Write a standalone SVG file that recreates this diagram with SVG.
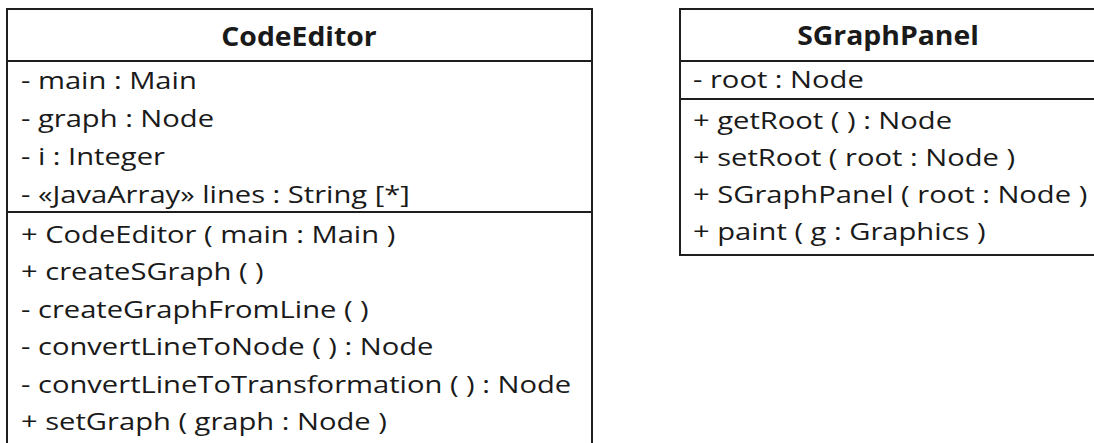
<svg xmlns="http://www.w3.org/2000/svg" width="1094" height="443" viewBox="0 0 1094 443">
<style>
.box{fill:#ffffff;stroke:#1e1e1e;stroke-width:2}
.div{stroke:#1e1e1e;stroke-width:2}
.t{font-family:"Open Sans","Noto Sans",sans-serif;font-size:24px;fill:#1a1a1a}
.h{font-family:"Open Sans","Noto Sans",sans-serif;font-size:27px;font-weight:bold;fill:#1a1a1a;text-anchor:middle}
</style>
<rect width="1094" height="443" fill="#ffffff"/>
<g id="CodeEditor">
<rect class="box" x="7" y="9" width="585" height="440"/>
<line class="div" x1="7" y1="61" x2="592" y2="61"/>
<line class="div" x1="7" y1="212" x2="592" y2="212"/>
<g transform="translate(299 0) scale(1.05 1)">
<text class="h" x="0" y="46">CodeEditor</text>
</g>
<g transform="translate(21 0) scale(1.215 1)">
<text class="t" x="0" y="89">- main : Main</text>
<text class="t" x="0" y="127">- graph : Node</text>
<text class="t" x="0" y="165">- i : Integer</text>
<text class="t" x="0" y="203">- «JavaArray» lines : String [*]</text>
<text class="t" x="0" y="243">+ CodeEditor ( main : Main )</text>
<text class="t" x="0" y="280">+ createSGraph ( )</text>
<text class="t" x="0" y="318">- createGraphFromLine ( )</text>
<text class="t" x="0" y="355">- convertLineToNode ( ) : Node</text>
<text class="t" x="0" y="393">- convertLineToTransformation ( ) : Node</text>
<text class="t" x="0" y="430">+ setGraph ( graph : Node )</text>
</g>
</g>
<g id="SGraphPanel">
<rect class="box" x="680" y="9" width="416" height="246"/>
<line class="div" x1="680" y1="61" x2="1096" y2="61"/>
<line class="div" x1="680" y1="99" x2="1096" y2="99"/>
<g transform="translate(888 0) scale(1.05 1)">
<text class="h" x="0" y="45">SGraphPanel</text>
</g>
<g transform="translate(693 0) scale(1.215 1)">
<text class="t" x="0" y="88">- root : Node</text>
<text class="t" x="0" y="129">+ getRoot ( ) : Node</text>
<text class="t" x="0" y="166">+ setRoot ( root : Node )</text>
<text class="t" x="0" y="203">+ SGraphPanel ( root : Node )</text>
<text class="t" x="0" y="240">+ paint ( g : Graphics )</text>
</g>
</g>
<g id="connectors"></g>
</svg>
